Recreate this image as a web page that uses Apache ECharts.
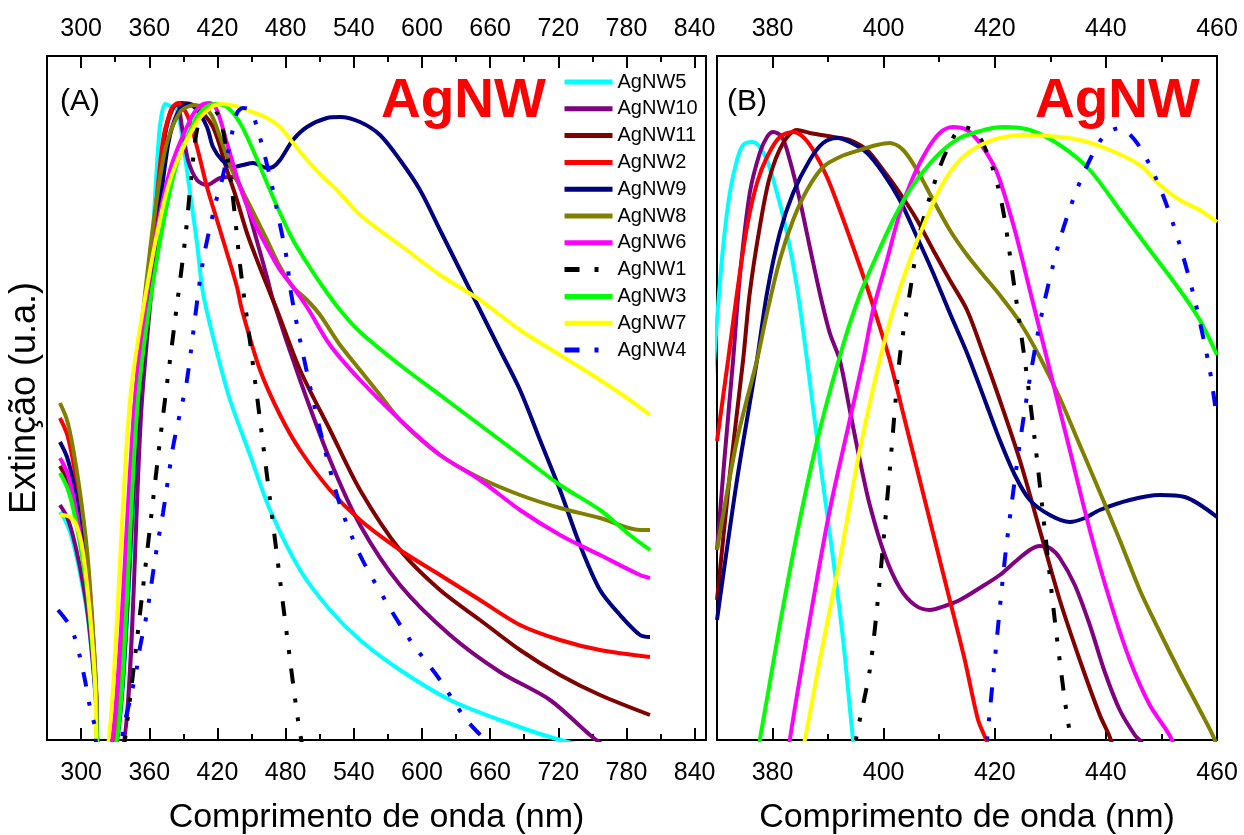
<!DOCTYPE html>
<html><head><meta charset="utf-8">
<script src="https://cdn.jsdelivr.net/npm/echarts@6/dist/echarts.min.js"></script>
<style>html,body{margin:0;padding:0;background:#fff}#c{width:1244px;height:835px}</style>
</head><body><div id="c"></div>
<script>
const names = ['AgNW5','AgNW10','AgNW11','AgNW2','AgNW9','AgNW8','AgNW6','AgNW1','AgNW3','AgNW7','AgNW4'];
const colors = ['#00FFFF','#800080','#800000','#FF0000','#000080','#808000','#FF00FF','#000000','#00FF00','#FFFF00','#0000FF'];
const dashedNames = ['AgNW1','AgNW4'];

const ticksA = [300,360,420,480,540,600,660,720,780,840];
const minorA = [330,390,450,510,570,630,690,750,810];
const ticksB = [380,400,420,440,460];
const minorB = [390,410,430,450];

// Panel A  [wavelength nm, extinction (a.u.)]
const A_AgNW5 = [[281.4,228],[287.6,216],[292.9,198],[299,167],[305.2,128],[309.6,84],[313.1,37],[315.8,-10],[327.2,-10],[351.9,340],[360.7,460],[366,560],[369.5,615],[373.9,636],[378.3,634],[384.4,630],[389.7,597],[395.9,547],[402,497],[407.3,447],[417.9,395],[431.1,340],[448.7,285],[466.3,230],[492.7,170],[519.1,130],[545.5,100],[580.7,70],[624.7,40],[668.7,20],[712.7,3],[756.7,-10]];
const A_AgNW10 = [[281.4,235],[287.6,223],[292.9,204],[299,173],[305.2,132],[309.6,86],[313.1,38],[315.8,-10],[334.2,-10],[353.6,340],[365.1,490],[372.1,590],[378.3,628],[384.4,636],[388.8,613],[394.1,580],[402,560],[410.8,555],[422.3,562],[433.7,563],[442.5,547],[451.3,513],[463.6,463],[468.9,440],[492.7,360],[519.1,280],[545.5,215],[580.7,155],[624.7,105],[668.7,68],[712.7,40],[747.9,5],[765.5,-10]];
const A_AgNW11 = [[281.4,274],[287.6,260],[292.9,238],[299,201],[305.2,154],[309.6,101],[313.1,45],[315.8,-10],[327.2,-10],[350.1,340],[363.3,490],[373,600],[380.9,632],[387.9,637],[400.3,634],[416.1,613],[428.4,570],[437.2,540],[446,507],[454.8,480],[466.3,447],[472.4,430],[492.7,370],[519.1,310],[545.5,250],[580.7,190],[615.9,150],[651.1,120],[686.3,90],[721.5,65],[756.7,45],[800.7,25]];
const A_AgNW2 = [[281.4,322],[287.6,306],[292.9,279],[299,237],[305.2,181],[309.6,119],[313.1,54],[315.8,-10],[325.4,-10],[349.2,340],[362.4,490],[372.1,600],[380,632],[385.3,637],[394.1,623],[402,593],[410.8,553],[419.6,520],[428.4,487],[437.2,453],[441.6,430],[457.5,370],[475.1,325],[492.7,290],[519.1,250],[545.5,220],[580.7,190],[615.9,165],[651.1,140],[686.3,115],[721.5,100],[756.7,90],[800.7,83]];
const A_AgNW9 = [[281.4,298],[287.6,283],[292.9,259],[299,219],[305.2,168],[309.6,110],[313.1,50],[315.8,-10],[328.1,-10],[351,340],[365.1,490],[376.5,595],[385.3,628],[394.1,636],[402,630],[410.8,613],[416.1,593],[424,580],[433.7,573],[442.5,575],[451.3,577],[463.6,572],[468.9,573],[475.1,580],[486.5,600],[498.8,613],[516.4,622],[527.9,623],[545.5,618],[563.1,605],[580.7,580],[598.3,550],[615.9,510],[633.5,470],[651.1,430],[668.7,390],[686.3,350],[703.9,300],[721.5,250],[739.1,195],[756.7,150],[774.3,125],[791.9,105],[800.7,103]];
const A_AgNW8 = [[281.4,337],[287.6,320],[292.9,292],[299,248],[305.2,190],[309.6,125],[313.1,57],[315.8,-10],[327.2,-10],[347.5,340],[360.7,490],[373.9,590],[387.1,628],[400.3,635],[413.5,627],[422.3,603],[432.8,570],[446,540],[463.6,500],[475.1,473],[486.5,453],[498.8,440],[510.3,425],[527.9,395],[545.5,370],[563.1,345],[580.7,320],[615.9,285],[651.1,262],[686.3,245],[721.5,232],[756.7,222],[791.9,210],[800.7,210]];
const A_AgNW6 = [[281.4,282],[287.6,268],[292.9,245],[299,207],[305.2,159],[309.6,104],[313.1,47],[315.8,-10],[323.7,-10],[347.5,340],[362.4,480],[378.3,570],[395.9,620],[404.7,634],[413.5,637],[419.6,630],[428.4,597],[439.9,553],[451.3,520],[463.6,493],[475.1,470],[486.5,453],[498.8,433],[519.1,395],[545.5,360],[580.7,320],[615.9,285],[651.1,260],[686.3,230],[721.5,205],[756.7,185],[791.9,165],[800.7,162]];
const A_AgNW1 = [[336,-10],[338.6,0],[356.3,170],[369.5,300],[382.7,420],[391.5,500],[397.6,570],[402.9,615],[410.8,633],[417.9,630],[424,615],[432.8,550],[439.9,475],[448.7,398],[457.5,320],[466.3,240],[475.1,160],[483.9,80],[490.9,20],[495.3,-10]];
const A_AgNW3 = [[281.4,267],[287.6,253],[292.9,232],[299,196],[305.2,150],[309.6,98],[313.1,44],[315.8,-10],[328.1,-10],[350.1,340],[365.1,470],[382.7,570],[400.3,620],[409.1,632],[417.9,636],[428.4,633],[439.9,617],[451.3,590],[463.6,557],[475.1,527],[486.5,500],[498.8,477],[512.9,453],[527.9,430],[545.5,408],[580.7,375],[615.9,345],[651.1,315],[686.3,285],[721.5,255],[756.7,230],[783,205],[800.7,190]];
const A_AgNW7 = [[281.4,225],[290.2,223],[296.4,213],[301.7,187],[307.8,127],[312.2,60],[314.9,-10],[321,-10],[343.1,340],[360.7,470],[378.3,560],[400.3,615],[413.5,632],[424,636],[435.5,634],[446,630],[463.6,622],[475.1,613],[486.5,597],[498.8,580],[512.9,563],[525.2,550],[545.5,525],[580.7,495],[615.9,465],[651.1,440],[686.3,410],[721.5,385],[756.7,360],[783,340],[800.7,325]];
const A_AgNW4 = [[279.7,130],[288.5,117],[294.6,102],[299,83],[303.4,60],[307.8,33],[312.2,13],[314.9,-10],[335,-10],[336.9,10],[343.1,40],[349.2,73],[351.9,93],[358,127],[362.4,160],[366.8,193],[372.1,227],[376.5,260],[380.9,293],[387.1,327],[393.2,360],[406.4,473],[417.9,535],[424,560],[431.1,597],[437.2,627],[442.5,632],[448.7,630],[454.8,613],[466.3,563],[472.4,530],[481.2,480],[483.9,453],[492.7,400],[510.3,310],[527.9,235],[545.5,185],[567.5,140],[589.5,100],[615.9,60],[637.9,22],[659.9,-5],[668.7,-15]];

// Panel B
const B_AgNW5 = [[368.5,300],[370,420],[371.1,493],[372.3,547],[373.6,580],[374.7,595],[376.3,598],[377.4,595],[379,580],[380.8,547],[382.6,507],[384.4,453],[386.2,380],[388.5,280],[390.7,190],[392.7,100],[394.5,0],[395.5,-40]];
const B_AgNW10 = [[370,190],[371.4,285],[372.9,380],[374.1,463],[375.9,547],[377.7,587],[379,603],[380.1,608],[381.7,603],[383.1,580],[384.9,540],[386.7,493],[388.5,447],[390.3,407],[392.1,380],[393.9,330],[395.7,280],[397.5,235],[400.2,185],[402.9,152],[405.6,135],[408.3,130],[411,134],[413.7,140],[417.3,152],[420.9,165],[423.6,178],[426.3,190],[428.1,194],[429.9,192],[431.7,182],[434.4,155],[437.1,115],[439.8,68],[442.5,30],[445.2,5],[446.7,-5],[447.5,-30]];
const B_AgNW11 = [[370,140],[372.3,265],[374.7,380],[375.9,447],[377.7,513],[379.5,563],[381.9,597],[384.4,610],[386.7,607],[390.9,603],[393.9,600],[397,590],[399.9,570],[402.9,547],[406,520],[408.9,490],[411.9,460],[415,430],[417.9,387],[420.9,340],[424.5,280],[428.1,210],[431.7,140],[435.3,80],[438.9,25],[440.9,0],[442,-30]];
const B_AgNW2 = [[370,299],[372,380],[373.6,447],[375.4,513],[377.2,557],[379,583],[381.3,603],[383.7,608],[385.5,603],[387.3,590],[389.8,563],[392.1,530],[394.5,493],[397,453],[399.3,413],[401.1,380],[403.8,320],[406.5,260],[409.2,200],[411.9,140],[414.6,80],[417,20],[418.8,-5],[419.5,-30]];
const B_AgNW9 = [[370,120],[373.6,260],[377.2,380],[379,447],[381.3,507],[383.7,547],[386.7,580],[389.1,597],[391.6,602],[393.9,598],[397,587],[399.9,567],[402.9,540],[406,503],[408.9,467],[411.9,427],[415,387],[418.2,340],[420.9,300],[423.6,265],[426.3,240],[429.9,225],[433.5,218],[436.2,222],[438.9,230],[444.3,240],[449.7,245],[454.2,243],[460,223]];
const B_AgNW8 = [[370,190],[373.6,300],[377.2,380],[379,427],[381.3,480],[383.7,520],[386.2,550],[389.1,573],[392.1,583],[395.7,590],[398.8,595],[401.1,597],[403.5,590],[406,570],[408.9,540],[411.9,510],[415,485],[417.9,465],[420.9,445],[424.5,418],[428.1,383],[431.7,342],[435.3,295],[438.9,248],[442.5,200],[446.1,150],[449.7,108],[453.3,68],[456.9,30],[459.6,0],[460.5,-20]];
const B_AgNW6 = [[382.5,-30],[383.1,0],[386.7,120],[390.3,230],[393.9,320],[396.3,380],[398.1,430],[400.6,480],[402.9,527],[405.3,563],[407.8,590],[410.1,607],[412.4,613],[415,610],[417.3,597],[419.6,577],[420.9,560],[423.6,510],[426.3,450],[429.9,370],[433.5,290],[437.1,210],[440.7,140],[444.3,80],[447.9,35],[451.9,0],[453,-30]];
const B_AgNW1 = [[394.5,-30],[395,0],[397.5,70],[399.3,160],[401.1,270],[402.9,383],[404.7,447],[406.5,507],[408.9,553],[411.4,590],[414.3,613],[416.8,607],[419.1,580],[420.6,553],[421.8,520],[423.6,450],[425.4,380],[427.2,300],[429,210],[430.8,120],[432.6,40],[433.7,0],[434.5,-30]];
const B_AgNW3 = [[376.5,-30],[377.7,0],[381.3,115],[384.9,220],[388.5,310],[392.7,395],[395.7,445],[398.8,485],[401.7,520],[404.7,550],[407.8,573],[410.7,590],[413.7,602],[416.8,608],[419.6,612],[421.8,613],[426.3,610],[431.7,595],[437.1,570],[442.5,530],[447.9,490],[453.3,450],[456.9,420],[460,385]];
const B_AgNW7 = [[384.5,-30],[385.8,0],[388.5,80],[392.1,180],[395.7,290],[399.3,380],[401.7,430],[404.7,480],[407.8,523],[410.7,557],[413.7,580],[416.8,593],[419.6,600],[420.9,602],[424.5,605],[429.9,604],[435.3,600],[440.7,590],[446.1,575],[449.7,555],[453.3,540],[456.9,530],[460,518]];
const B_AgNW4 = [[418,-30],[418.6,0],[420,80],[421.8,180],[423.6,260],[425.4,330],[427.2,390],[429,440],[431.7,500],[434.4,545],[437.1,580],[439.8,605],[442.5,612],[445.2,600],[447.9,575],[450.6,540],[453.3,495],[456,440],[458.7,370],[460,320]];

const seriesA = [A_AgNW5,A_AgNW10,A_AgNW11,A_AgNW2,A_AgNW9,A_AgNW8,A_AgNW6,A_AgNW1,A_AgNW3,A_AgNW7,A_AgNW4];
const seriesB = [B_AgNW5,B_AgNW10,B_AgNW11,B_AgNW2,B_AgNW9,B_AgNW8,B_AgNW6,B_AgNW1,B_AgNW3,B_AgNW7,B_AgNW4];

const FONT = "'Liberation Sans', Arial, sans-serif";
const dashPattern = [15,15,4,15,4,15];

function xAx(grid, pos, min, max, labels, ticks, len, showLabel, name) {
  return {
    type: 'value', gridIndex: grid, position: pos, min: min, max: max,
    axisLine: { show: false },
    splitLine: { show: false },
    axisTick: { show: true, inside: true, length: len, customValues: ticks, lineStyle: { color: '#000', width: 2 } },
    axisLabel: { show: showLabel, customValues: labels, fontSize: 25, color: '#000', fontFamily: FONT, margin: pos === 'bottom' ? 21 : 14 },
    name: name || '', nameLocation: 'middle', nameGap: 61,
    nameTextStyle: { fontSize: 34, color: '#000', fontFamily: FONT }
  };
}
function yAx(grid, name) {
  return {
    type: 'value', gridIndex: grid, min: 0, max: 684,
    axisLine: { show: false }, axisTick: { show: false }, axisLabel: { show: false }, splitLine: { show: false },
    name: name || '', nameLocation: 'middle', nameGap: 4,
    nameTextStyle: { fontSize: 36, color: '#000', fontFamily: FONT }
  };
}

const series = [];
function addSeries(arr, xi, yi) {
  arr.forEach((d, i) => {
    series.push({
      type: 'line', name: names[i], data: d, xAxisIndex: xi, yAxisIndex: yi,
      symbol: 'none', smooth: 0.3, clip: true,
      lineStyle: { width: 4, color: colors[i], type: dashedNames.includes(names[i]) ? dashPattern : 'solid' },
      itemStyle: { color: colors[i] }
    });
  });
}
addSeries(seriesA, 0, 0);
addSeries(seriesB, 4, 2);

const gridBase = { top: 56, height: 684, containLabel: false, outerBoundsMode: 'none' };
const option = {
  animation: false,
  backgroundColor: '#fff',
  grid: [
    Object.assign({ left: 47, width: 659, show: true, borderColor: '#000', borderWidth: 2, backgroundColor: 'transparent' }, gridBase),
    Object.assign({ left: 47, width: 659 }, gridBase),
    Object.assign({ left: 717, width: 500, show: true, borderColor: '#000', borderWidth: 2, backgroundColor: 'transparent' }, gridBase),
    Object.assign({ left: 717, width: 500 }, gridBase)
  ],
  xAxis: [
    xAx(0, 'bottom', 270, 850, ticksA, ticksA, 12, true, 'Comprimento de onda (nm)'),
    xAx(0, 'top', 270, 850, ticksA, ticksA, 12, true),
    xAx(1, 'bottom', 270, 850, [], minorA, 6, false),
    xAx(1, 'top', 270, 850, [], minorA, 6, false),
    xAx(2, 'bottom', 370, 460, ticksB, ticksB, 12, true, 'Comprimento de onda (nm)'),
    xAx(2, 'top', 370, 460, ticksB, ticksB, 12, true),
    xAx(3, 'bottom', 370, 460, [], minorB, 6, false),
    xAx(3, 'top', 370, 460, [], minorB, 6, false)
  ],
  yAxis: [ yAx(0, 'Extinção (u.a.)'), yAx(1), yAx(2), yAx(3) ],
  legend: {
    orient: 'vertical', left: 562, top: 72, padding: 0, itemWidth: 48, itemHeight: 14, itemGap: 6.8,
    itemStyle: { opacity: 0, borderWidth: 0 },
    lineStyle: { width: 5 },
    textStyle: { fontSize: 20, lineHeight: 20, color: '#000', fontFamily: FONT },
    data: names
  },
  graphic: [
    { type: 'text', left: 60, top: 87, style: { text: '(A)', font: "30px 'Liberation Sans', Arial", fill: '#000' } },
    { type: 'text', left: 381, top: 74, style: { text: 'AgNW', font: "bold 55px 'Liberation Sans', Arial", fill: '#FF0000' } },
    { type: 'text', left: 727, top: 87, style: { text: '(B)', font: "30px 'Liberation Sans', Arial", fill: '#000' } },
    { type: 'text', left: 1035, top: 74, style: { text: 'AgNW', font: "bold 55px 'Liberation Sans', Arial", fill: '#FF0000' } }
  ],
  series: series
};
const chart = echarts.init(document.getElementById('c'), null, { renderer: 'canvas' });
chart.setOption(option);
</script></body></html>
